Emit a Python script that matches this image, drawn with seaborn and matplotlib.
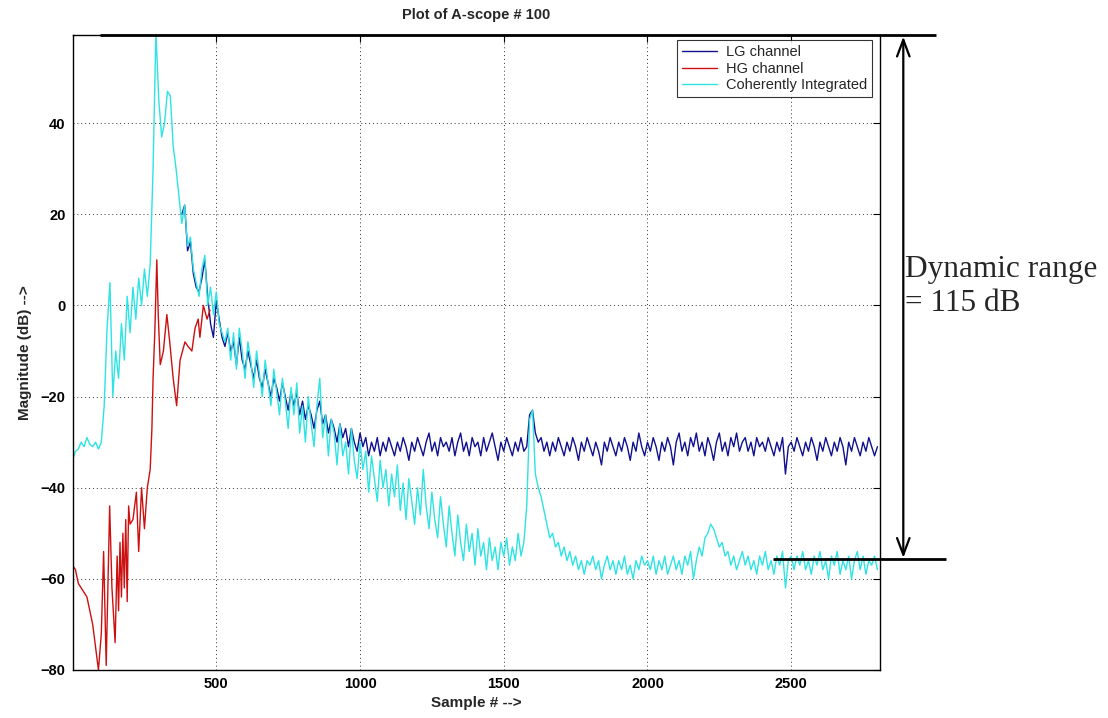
import numpy as np
import pandas as pd
import matplotlib
matplotlib.use("Agg")
import matplotlib.pyplot as plt
import seaborn as sns

# ---------------- data ----------------
series_names = ["LG channel", "HG channel", "Coherently Integrated"]

coh_start, coh_step = 0, 10
coh_db = [
    -34, -32, -31.5, -30, -31, -29, -30.5, -31, -30, -31.5,
    -30, -22, -5, 5, -20, -10, -16, -4, -12, 2,
    -6, 4, -3, 6, 0, 8, 2, 9, 30, 60,
    45, 37, 40, 47, 46, 35, 30, 24, 18, 22,
    13, 15, 8, 5, 2, 8, 11, 0, 4, -2,
    3, -4, -6, -8, -5, -12, -6, -14, -5, -10,
    -16, -8, -12, -18, -10, -15, -20, -12, -17, -22,
    -14, -19, -24, -16, -21, -27, -18, -24, -17, -28,
    -22, -30, -20, -26, -31, -22, -16, -29, -24, -33,
    -25, -28, -35, -26, -33, -30, -37, -27, -34, -38,
    -30, -36, -32, -41, -33, -38, -43, -34, -40, -36,
    -44, -37, -42, -35, -45, -39, -47, -38, -43, -48,
    -40, -46, -36, -44, -49, -41, -47, -51, -42, -48,
    -53, -44, -50, -55, -46, -52, -56, -48, -54, -50,
    -57, -49, -55, -52, -58, -51, -56, -53, -58, -52,
    -55, -51, -57, -53, -56, -50, -55, -52, -44, -25,
    -23, -37, -40, -42, -45, -48, -51, -50, -53, -52,
    -55, -53, -56, -54, -57, -55, -58, -56, -59, -56,
    -57, -55, -58, -56, -60, -57, -55, -58, -56, -59,
    -56, -58, -55, -59, -57, -60, -56, -58, -55, -57,
    -56, -58, -55, -59, -56, -58, -55, -59, -57, -55,
    -58, -56, -59, -55, -57, -54, -60, -56, -53, -55,
    -51, -50, -48, -49, -51, -53, -52, -55, -54, -57,
    -55, -58, -56, -54, -57, -55, -58, -56, -59, -55,
    -57, -54, -58, -56, -59, -55, -57, -54, -62, -56,
    -55, -58, -55, -57, -54, -58, -56, -59, -55, -57,
    -54, -58, -56, -60, -55, -57, -54, -59, -56, -58,
    -55, -60, -56, -54, -58, -55, -59, -56, -57, -55,
    -58,
]

lg_start, lg_step = 380, 10
lg_db = [
    20, 22,
    12, 14, 7, 4, 3, 6, 10, 2, -4, -7,
    1, -3, -7, -9, -6, -10, -8, -13, -7, -12,
    -14, -10, -13, -16, -12, -16, -18, -14, -17, -20,
    -16, -18, -21, -17, -20, -23, -19, -22, -19, -24,
    -21, -25, -22, -24, -27, -23, -21, -26, -24, -28,
    -25, -27, -30, -26, -29, -27, -31, -27, -30, -32,
    -28, -31, -29, -33, -30, -32, -29, -33, -30, -32,
    -29, -31, -33, -30, -32, -29, -31, -34, -30, -32,
    -29, -31, -33, -30, -28, -32, -30, -33, -29, -31,
    -30, -32, -29, -33, -30, -28, -32, -30, -33, -29,
    -31, -30, -33, -29, -32, -30, -28, -31, -34, -30,
    -32, -29, -31, -33, -30, -32, -29, -32, -31, -24,
    -23, -28, -30, -29, -32, -30, -33, -30, -32, -29,
    -31, -33, -30, -32, -29, -31, -34, -30, -32, -29,
    -31, -33, -30, -32, -35, -30, -32, -29, -31, -33,
    -30, -32, -29, -31, -34, -30, -32, -28, -31, -33,
    -30, -32, -29, -31, -34, -30, -32, -29, -31, -35,
    -30, -28, -32, -30, -33, -29, -31, -28, -32, -30,
    -33, -29, -31, -34, -30, -28, -32, -30, -33, -29,
    -31, -28, -32, -30, -29, -32, -30, -33, -29, -31,
    -30, -32, -29, -31, -33, -30, -32, -29, -37, -31,
    -30, -32, -29, -31, -33, -30, -32, -29, -31, -34,
    -30, -32, -29, -31, -33, -30, -32, -29, -31, -35,
    -30, -32, -29, -31, -33, -30, -32, -29, -31, -33,
    -31,
]

hg_sample = [0, 10, 20, 30, 40, 50, 60, 70, 80, 90,
             100, 108, 117, 129, 137, 148,
             155, 160, 165, 170, 175, 180, 185, 190, 195, 200,
             210, 222, 230, 240, 250, 260, 270, 276, 280, 286,
             293, 298, 305, 316, 328, 338, 350, 362, 374, 391,
             402, 415, 426, 437, 443, 455, 468, 478]
hg_db = [-57, -58, -61, -62, -63, -64, -67, -70, -75, -80,
         -72, -54, -79, -44, -62, -74,
         -55, -67, -52, -64, -50, -62, -47, -65, -44, -48,
         -47, -41, -54, -40, -49, -40, -36, -27, -16, -6,
         10, -2, -13, -10, -2, -8, -16, -22, -12, -8,
         -9, -10, -5, -3, -7, 0, -3, -1]

x_ticks = [500, 1000, 1500, 2000, 2500]
y_ticks = [-80, -60, -40, -20, 0, 20, 40]
dynamic_range_db = 115
title_text = "Plot of A-scope # 100"
x_label = "Sample # -->"
y_label = "Magnitude (dB) -->"

# ---------------- build long-form table ----------------
coh_x = np.arange(len(coh_db)) * coh_step + coh_start
lg_x = np.arange(len(lg_db)) * lg_step + lg_start
df = pd.concat([
    pd.DataFrame({"sample": lg_x, "db": lg_db, "series": series_names[0]}),
    pd.DataFrame({"sample": hg_sample, "db": hg_db, "series": series_names[1]}),
    pd.DataFrame({"sample": coh_x, "db": coh_db, "series": series_names[2]}),
], ignore_index=True)

palette = {series_names[0]: "#10108f", series_names[1]: "#cc1010",
           series_names[2]: "#2ee3e3"}

# ---------------- plot ----------------
sns.set_style("white")
plt.rcParams["font.family"] = ["Liberation Sans", "DejaVu Sans"]

fig = plt.figure(figsize=(11.08, 7.18), dpi=100)
ax = fig.add_axes([0.0655, 0.0669, 0.729, 0.884])

sns.lineplot(data=df, x="sample", y="db", hue="series", palette=palette,
             hue_order=series_names, estimator=None, sort=False,
             linewidth=1.0, ax=ax, legend=True)

y_top = float(np.max(coh_db)) - 0.7
ax.set_xlim(0, 2810)
ax.set_ylim(-80, y_top)
ax.set_xticks(x_ticks)
ax.set_yticks(y_ticks)
ax.tick_params(direction="in", top=True, right=True, length=5, width=0.8,
               labelsize=10.5, colors="black", pad=5)
for lab in ax.get_xticklabels() + ax.get_yticklabels():
    lab.set_fontweight("bold")
ax.grid(True, color="#333333", linestyle=(0, (1, 3)), linewidth=0.7)
for s in ax.spines.values():
    s.set_color("black")
    s.set_linewidth(1.0)

ax.set_title(title_text, fontsize=10.5, fontweight="bold", pad=12)
ax.set_xlabel(x_label, fontsize=11, fontweight="bold", labelpad=4)
ax.set_ylabel(y_label, fontsize=11, fontweight="bold", labelpad=6)

leg = ax.legend(loc="upper right", bbox_to_anchor=(0.99, 0.992),
                fontsize=10.5, frameon=True, fancybox=False,
                handlelength=2.4, borderpad=0.35, labelspacing=0.15,
                handletextpad=0.6, borderaxespad=0.0)
leg.get_frame().set_edgecolor("black")
leg.get_frame().set_linewidth(0.8)
for line in leg.get_lines():
    line.set_linewidth(1.0)

# ---------------- dynamic range annotation ----------------
y_bot = y_top - dynamic_range_db
ax.plot([96, 3005], [y_top, y_top], color="black", lw=2.0, clip_on=False,
        solid_capstyle="butt", zorder=5)
ax.plot([2437, 3040], [y_bot, y_bot], color="black", lw=2.0, clip_on=False,
        solid_capstyle="butt", zorder=5)
ax.annotate("", xy=(2890, y_top - 0.3), xytext=(2890, y_bot + 0.3),
            arrowprops=dict(arrowstyle="<->,head_length=1.2,head_width=0.45",
                            color="black", lw=1.6, shrinkA=0, shrinkB=0),
            annotation_clip=False)
fig.text(0.8165, 0.601, "Dynamic range\n= " + str(dynamic_range_db) + " dB",
         family=["Liberation Serif", "DejaVu Serif"], fontsize=22.5,
         ha="left", va="center", linespacing=1.25)

fig.savefig("out.png", dpi=100)
